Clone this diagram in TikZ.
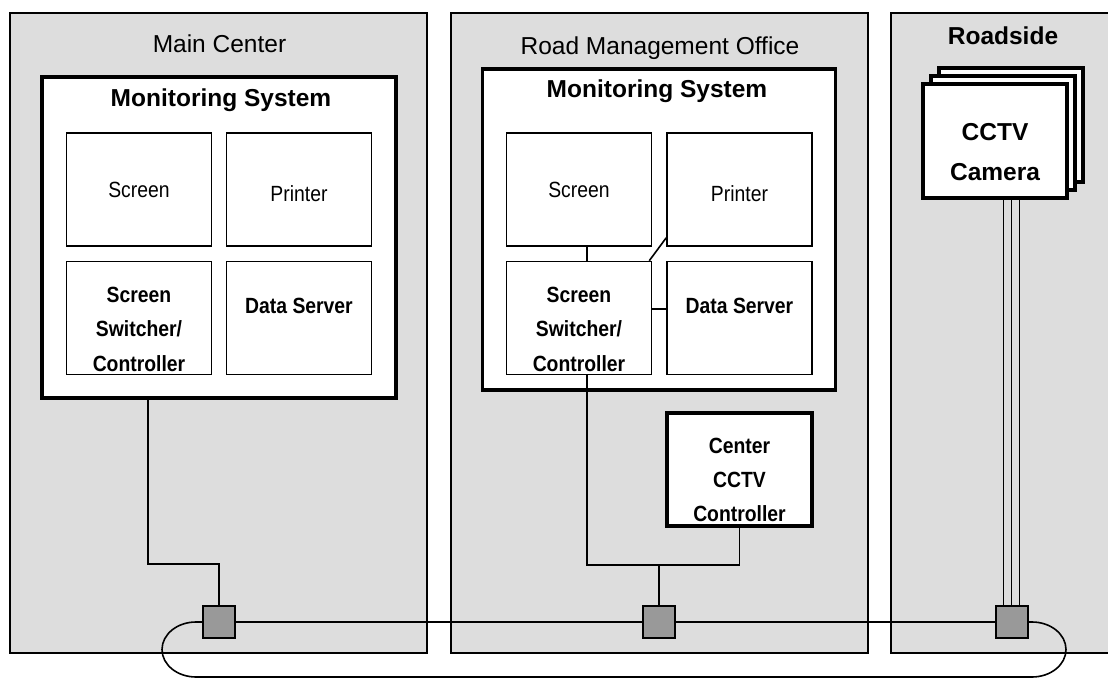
\documentclass[tikz,border=0pt]{standalone}
\usepackage{fontspec}
\setmainfont{Liberation Sans}
\newfontfamily\narrowsans[FakeStretch=0.88]{Liberation Sans}
\definecolor{panelgray}{RGB}{221,221,221}
\definecolor{hubgray}{RGB}{153,153,153}

\begin{document}
\begin{tikzpicture}[x=1bp, y=-1bp,
	panel/.style={draw, line width=1.5bp, fill=panelgray, minimum width=417bp, minimum height=640bp, inner sep=0pt},
	title/.style={font=\fontsize{24.5bp}{29bp}\selectfont, inner sep=0pt, anchor=base},
	msbox/.style={draw, line width=3.5bp, fill=white, minimum width=354bp, minimum height=321bp, inner sep=0pt},
	unit/.style={draw, line width=1.5bp, fill=white, minimum width=145bp, minimum height=113bp, inner sep=0pt},
	lbl/.style={font=\narrowsans\fontsize{22bp}{34.5bp}\selectfont, align=center, inner sep=0pt},
	boldlbl/.style={lbl, font=\narrowsans\fontsize{22bp}{34.5bp}\selectfont\bfseries},
	camera/.style={draw, line width=3.3bp, fill=white, minimum width=144bp, minimum height=114bp, inner sep=0pt},
	hub/.style={draw, line width=2bp, fill=hubgray, minimum size=32bp, inner sep=0pt},
	link/.style={line width=1.6bp}]
		\useasboundingbox (0,0) rectangle (1108,679);
		\clip (0,0) rectangle (1108,679);

		\node[panel] (mc) at (218.5,333) {};
		\node[panel] (rmo) at (659.5,333) {};
		\node[panel, minimum width=240bp] (rs) at (1011,333) {};
		\node[title] (mcT) at (219.5,53) {Main Center};
		\node[title] (rmoT) at (660,55) {Road Management Office};
		\node[title, font=\fontsize{24.5bp}{29bp}\selectfont\bfseries] (rsT) at (1003,45) {Roadside};

		\node[msbox] (ms1) at (219,237.5) {};
		\node[title, font=\fontsize{24.5bp}{29bp}\selectfont\bfseries] (ms1T) at (221,107) {Monitoring System};
		\node[unit] (scr1) at (139,189.5) {};
		\node[unit] (prn1) at (299,189.5) {};
		\node[unit] (sw1) at (139,318) {};
		\node[unit] (dat1) at (299,318) {};
		\node[lbl] (scr1L) at (scr1) {Screen};
		\node[lbl] (prn1L) at ([yshift=-4bp]prn1.center) {Printer};
		\node[boldlbl] (sw1L) at ([yshift=-11bp]sw1.center) {Screen\\Switcher/\\Controller};
		\node[boldlbl] (dat1L) at ([yshift=12bp]dat1.center) {Data Server};

		\node[msbox, minimum width=353bp] (ms2) at (659,229.5) {};
		\node[title, font=\fontsize{24.5bp}{29bp}\selectfont\bfseries] (ms2T) at (657,98) {Monitoring System};
		\node[unit] (scr2) at (579,189.5) {};
		\node[unit] (prn2) at (739.5,189.5) {};
		\node[unit] (sw2) at (579,318) {};
		\node[unit] (dat2) at (739.5,318) {};
		\node[lbl] (scr2L) at (scr2) {Screen};
		\node[lbl] (prn2L) at ([yshift=-4bp]prn2.center) {Printer};
		\node[boldlbl] (sw2L) at ([yshift=-11bp]sw2.center) {Screen\\Switcher/\\Controller};
		\node[boldlbl] (dat2L) at ([yshift=12bp]dat2.center) {Data Server};

		\node[unit, line width=3.5bp] (ctl) at (739.5,469.5) {};
		\node[boldlbl, font=\narrowsans\fontsize{22bp}{34bp}\selectfont\bfseries] (ctlL) at ([yshift=-10bp]ctl.center) {Center\\CCTV\\Controller};

		\node[camera] (cam3) at (1011,125) {};
		\node[camera] (cam2) at (1003,133) {};
		\node[camera] (cam1) at (995,141) {};
		\node[lbl, font=\fontsize{24.5bp}{40bp}\selectfont\bfseries] (cam1L) at ([yshift=-11bp]cam1.center) {CCTV\\Camera};

		\node[hub] (hub1) at (219,622) {};
		\node[hub] (hub2) at (659,622) {};
		\node[hub] (hub3) at (1011.5,622) {};

		\draw[link] ([xshift=8bp]scr2.south) -- ([xshift=8bp]sw2.north);
		\draw[link] ([xshift=-3bp]sw2.north east) -- ([yshift=9bp]prn2.south west);
		\draw[link] ([yshift=9bp]sw2.east) -- ([yshift=9bp]dat2.west);

		\draw[link] ([xshift=9bp]sw1.south |- ms1.south) |- ([yshift=41bp]hub1.north) -- (hub1.north);
		\draw[link] ([xshift=8bp]sw2.south) |- ([yshift=40bp]hub2.north) -| (ctl.south);
		\draw[link] ([yshift=40bp]hub2.north) -- (hub2.north);
		\foreach \d in {-8,0,8}
			\draw[link] ([xshift=\d bp]hub3.north) -- ([xshift=\d bp]hub3.north |- cam1.south);

		\draw[link] (hub1.east) -- (hub2.west);
		\draw[link] (hub2.east) -- (hub3.west);
		\draw[link] (hub1.west) -- ++(-6,0) arc[start angle=270, end angle=90, x radius=34, y radius=27.5]
			-- ++(836,0) arc[start angle=90, end angle=-90, x radius=34, y radius=27.5] -- (hub3.east);
\end{tikzpicture}
\end{document}
